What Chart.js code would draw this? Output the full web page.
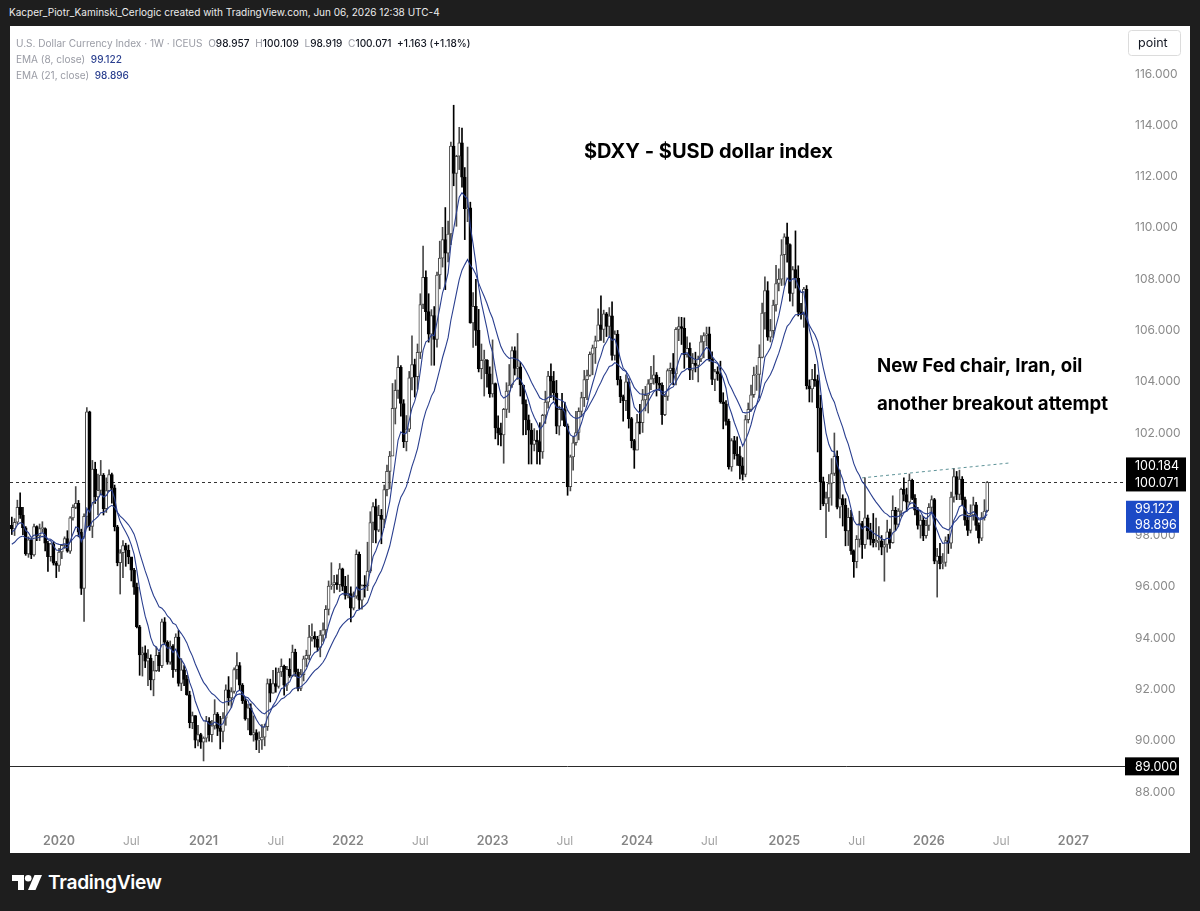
<!DOCTYPE html>
<html>
<head>
<meta charset="utf-8">
<script src="https://cdn.jsdelivr.net/npm/chart.js@4.4.1/dist/chart.umd.min.js"></script>
<style>
html, body { margin: 0; padding: 0; width: 1200px; height: 911px; overflow: hidden; background: #1e1e1e; font-family: Inter, "Noto Sans", sans-serif; }
.fit { position: absolute; white-space: nowrap; display: inline-block; }
#topbar { left: 9px; top: 4px; color: #ececec; font-size: 13px; line-height: 16px; }
#panel { position: absolute; left: 10px; top: 26px; width: 1180px; height: 827px; background: #fff; }
#chart { position: absolute; left: 0; top: 0; }
#legend { position: absolute; left: 6px; top: 9px; font-size: 12.5px; line-height: 16px; color: #9a9ca5; }
#legend div { white-space: nowrap; display: table; }
#legend b { font-weight: 500; color: #131722; }
#legend .ema { color: #2a3f8f; font-weight: 500; }
#logo { position: absolute; left: 12px; top: 872px; height: 20px; color: #fff; }
#logo svg { position: absolute; left: 0; top: 3px; }
#logo span { position: absolute; left: 36px; top: -2px; font-weight: 600; font-size: 21px; white-space: nowrap; letter-spacing: -0.3px; }
</style>
</head>
<body>
<div id="topbar" class="fit">Kacper_Piotr_Kaminski_Cerlogic created with TradingView.com, Jun 06, 2026 12:38 UTC-4</div>
<div id="panel">
  <canvas id="chart"></canvas>
  <div id="legend">
    <div id="leg1">U.S. Dollar Currency Index · 1W · ICEUS&nbsp; O<b>98.957</b>&nbsp; H<b>100.109</b>&nbsp; L<b>98.919</b>&nbsp; C<b>100.071</b>&nbsp; <b>+1.163 (+1.18%)</b></div>
    <div id="leg2">EMA (8, close)&nbsp; <span class="ema">99.122</span></div>
    <div id="leg3">EMA (21, close)&nbsp; <span class="ema">98.896</span></div>
  </div>
</div>
<div id="logo">
  <svg width="30" height="15" viewBox="0 0 30 15"><path d="M0 0h12v15h-6v-9h-6z" fill="#fff"/><circle cx="16.2" cy="3.3" r="3.3" fill="#fff"/><path d="M22.5 0h7.5l-6.5 15h-7.5z" fill="#fff"/></svg>
  <span id="logotext">TradingView</span>
</div>
<script>
// weekly DXY candles, first bar = week of 2019-09-09
const firstOpen = 98.40;
const closes = [
  98.26, 98.52, 99.10, 98.80, 98.30, 97.28, 97.83, 97.24, 98.35, 97.99,
  98.27, 98.27, 97.70, 97.18, 97.68, 96.92, 96.84, 97.36, 97.62, 97.88,
  97.39, 98.69, 99.10, 99.26, 98.13, 95.94, 98.75, 102.82, 98.36, 100.59,
  99.51, 99.76, 100.36, 99.05, 99.75, 100.38, 99.86, 98.34, 96.94, 97.33,
  97.61, 97.43, 97.17, 96.65, 95.99, 94.44, 93.35, 93.43, 93.10, 93.22,
  92.37, 92.73, 93.33, 92.93, 94.64, 93.84, 93.06, 93.69, 92.77, 94.04,
  92.23, 92.76, 92.39, 91.79, 90.70, 90.98, 90.02, 90.24, 89.94, 90.10,
  90.77, 90.24, 90.58, 91.04, 90.48, 90.36, 90.88, 91.98, 91.67, 91.92,
  92.77, 92.93, 92.17, 91.56, 90.85, 91.28, 90.23, 90.32, 90.02, 90.03,
  90.14, 90.55, 92.23, 91.85, 92.23, 92.12, 92.68, 92.90, 92.17, 92.78,
  92.53, 93.46, 92.68, 92.04, 92.58, 93.19, 93.33, 94.04, 94.08, 93.96,
  93.64, 94.12, 94.32, 95.12, 96.03, 96.08, 96.17, 96.08, 96.70, 96.02,
  95.67, 95.74, 95.17, 95.64, 97.27, 95.48, 96.05, 96.04, 96.61, 98.51,
  99.13, 98.21, 98.79, 98.63, 99.79, 100.50, 101.10, 102.96, 103.66, 104.56,
  103.15, 101.66, 102.15, 104.15, 104.67, 104.20, 105.14, 107.01, 108.07, 106.73,
  105.85, 106.58, 105.65, 108.16, 108.82, 109.54, 109.01, 109.76, 113.19, 112.12,
  112.79, 113.31, 111.98, 110.75, 110.78, 106.29, 106.94, 106.00, 104.51, 104.83,
  104.84, 104.31, 103.52, 103.93, 102.20, 101.99, 101.92, 102.92, 103.63, 103.87,
  105.21, 104.52, 104.58, 103.87, 103.12, 102.51, 102.11, 101.55, 101.72, 101.66,
  101.26, 102.69, 103.20, 104.22, 104.02, 103.56, 102.27, 102.92, 102.91, 102.28,
  99.91, 101.07, 101.62, 102.02, 102.84, 103.38, 104.08, 104.24, 105.07, 105.32,
  105.59, 106.22, 106.04, 106.65, 106.16, 106.57, 105.02, 105.86, 104.08, 103.42,
  103.26, 103.99, 102.56, 101.70, 101.33, 102.41, 102.40, 103.29, 103.47, 103.92,
  104.11, 104.27, 103.94, 103.86, 102.71, 103.43, 104.43, 104.53, 104.30, 106.04,
  106.15, 106.08, 105.05, 105.30, 104.45, 104.72, 104.63, 104.89, 105.55, 105.80,
  105.87, 104.88, 104.09, 104.39, 104.31, 103.21, 103.14, 102.45, 100.68, 101.70,
  101.18, 101.11, 100.72, 100.38, 102.52, 102.92, 103.49, 104.26, 104.28, 104.95,
  106.68, 107.55, 105.74, 105.99, 106.99, 107.83, 108.00, 108.95, 109.65, 109.35,
  107.44, 108.37, 108.04, 106.71, 106.61, 107.61, 103.84, 103.72, 104.09, 104.04,
  102.98, 100.10, 99.23, 99.47, 100.03, 100.42, 101.09, 99.11, 99.44, 99.19,
  98.18, 98.71, 97.40, 96.98, 97.85, 98.47, 97.64, 98.69, 98.18, 97.85,
  97.72, 97.77, 97.77, 97.55, 97.65, 98.15, 97.72, 98.98, 98.43, 98.95,
  99.80, 99.60, 99.30, 100.15, 99.45, 98.99, 98.40, 98.60, 98.00, 98.40,
  99.10, 99.40, 97.00, 97.20, 96.90, 96.95, 97.80, 97.70, 99.50, 100.30,
  99.60, 100.20, 99.40, 98.60, 98.20, 98.80, 99.20, 98.40, 97.90, 98.70,
  98.957, 100.071
];
const highs = [
  98.72, 98.66, 99.38, 99.67, 99.10, 98.35, 97.95, 97.88, 98.45, 98.38,
  98.45, 98.54, 98.30, 97.77, 97.70, 97.75, 96.99, 97.50, 97.64, 97.95,
  98.19, 98.74, 99.20, 99.91, 99.37, 98.25, 98.85, 102.99, 102.85, 100.93,
  100.86, 100.40, 100.93, 100.42, 100.25, 100.56, 100.44, 99.97, 98.40, 97.45,
  97.80, 97.70, 97.63, 97.07, 96.72, 96.15, 94.50, 93.65, 93.70, 93.55,
  93.35, 93.10, 93.66, 93.45, 94.74, 94.80, 93.90, 93.89, 93.75, 94.17,
  94.30, 93.20, 92.93, 92.55, 91.93, 91.12, 90.98, 90.60, 90.29, 90.15,
  90.95, 90.90, 90.79, 91.60, 91.10, 90.95, 91.10, 92.18, 92.50, 92.07,
  92.84, 93.44, 93.05, 92.23, 91.68, 91.43, 91.44, 90.97, 90.43, 90.35,
  90.63, 90.65, 92.41, 92.40, 92.74, 92.84, 92.83, 93.19, 92.95, 92.90,
  93.20, 93.73, 93.57, 92.79, 92.78, 93.30, 93.53, 94.50, 94.56, 94.25,
  94.07, 94.30, 94.60, 95.27, 96.23, 96.94, 96.45, 96.47, 96.91, 96.73,
  96.41, 96.46, 96.00, 95.80, 97.44, 97.36, 96.08, 96.44, 97.74, 98.93,
  99.29, 99.42, 99.18, 99.02, 99.97, 100.75, 101.28, 103.93, 104.07, 105.01,
  104.63, 103.30, 102.68, 104.40, 105.79, 104.88, 105.47, 107.43, 109.29, 108.32,
  107.43, 106.81, 106.93, 108.27, 109.48, 110.02, 110.79, 110.26, 113.34, 114.78,
  112.83, 113.92, 113.89, 112.35, 113.15, 111.00, 107.47, 107.99, 106.82, 105.47,
  105.23, 104.86, 104.58, 105.63, 103.95, 102.67, 102.39, 102.96, 103.96, 104.67,
  105.36, 105.36, 105.88, 104.76, 103.87, 103.29, 102.70, 102.37, 102.17, 102.09,
  102.40, 102.73, 103.63, 104.40, 104.70, 104.40, 104.05, 103.05, 103.55, 103.20,
  102.35, 101.14, 101.85, 102.84, 102.98, 103.59, 104.44, 104.45, 105.16, 105.43,
  105.78, 106.84, 107.35, 106.79, 106.70, 106.89, 107.11, 105.98, 106.00, 104.21,
  103.48, 104.27, 104.12, 102.61, 101.75, 102.73, 103.12, 103.70, 103.82, 104.08,
  104.60, 105.02, 104.36, 104.17, 103.96, 103.50, 104.50, 104.73, 105.10, 106.11,
  106.52, 106.51, 106.49, 105.75, 105.52, 105.10, 105.15, 105.00, 105.80, 105.91,
  106.13, 106.13, 105.16, 104.48, 104.58, 104.80, 103.57, 103.26, 102.54, 101.78,
  101.87, 101.85, 101.47, 101.04, 102.69, 103.17, 103.87, 104.57, 104.63, 105.44,
  107.07, 108.09, 107.90, 106.43, 107.18, 108.54, 108.40, 109.54, 109.77, 110.18,
  109.38, 108.49, 109.88, 108.52, 107.06, 107.68, 107.75, 104.07, 104.48, 104.68,
  104.26, 103.47, 100.28, 99.70, 100.38, 101.00, 102.00, 101.30, 100.55, 99.59,
  99.44, 99.07, 98.98, 97.44, 98.00, 98.95, 98.55, 100.25, 98.80, 98.48,
  98.86, 98.68, 98.35, 98.00, 97.85, 98.60, 98.25, 99.55, 99.10, 99.05,
  99.85, 100.25, 99.85, 100.40, 100.20, 99.60, 99.10, 98.80, 98.75, 98.60,
  99.25, 99.55, 99.45, 97.50, 97.70, 97.30, 97.95, 98.05, 99.70, 100.60,
  100.50, 100.55, 100.30, 99.50, 98.80, 99.20, 99.50, 99.30, 98.50, 98.90,
  99.40, 100.109
];
const lows = [
  98.04, 98.00, 98.45, 98.67, 98.03, 97.23, 97.15, 97.10, 97.20, 97.80,
  97.80, 98.15, 97.40, 96.60, 97.00, 96.85, 96.36, 96.60, 97.10, 97.50,
  97.35, 97.30, 98.60, 99.05, 97.95, 95.70, 94.65, 98.30, 98.20, 97.92,
  99.25, 98.80, 99.60, 98.80, 98.90, 99.72, 99.26, 98.18, 96.82, 95.72,
  96.36, 96.80, 96.90, 96.23, 95.70, 94.40, 92.55, 92.52, 92.85, 92.15,
  91.98, 91.75, 92.70, 92.70, 92.85, 93.75, 92.98, 92.98, 92.47, 92.70,
  92.13, 91.95, 92.15, 91.78, 90.50, 90.47, 89.72, 89.80, 89.70, 89.21,
  89.95, 89.98, 89.95, 90.45, 90.20, 89.68, 89.95, 90.60, 91.38, 91.30,
  91.85, 92.40, 91.98, 91.45, 90.80, 90.42, 90.22, 89.98, 89.65, 89.53,
  89.66, 89.80, 90.40, 91.51, 91.85, 91.89, 92.05, 92.50, 91.78, 91.95,
  92.47, 92.50, 92.51, 91.94, 91.95, 92.33, 92.89, 93.15, 93.88, 93.65,
  93.50, 93.27, 93.87, 94.01, 94.90, 95.90, 95.76, 95.90, 95.81, 95.85,
  95.52, 95.57, 94.63, 95.10, 95.55, 95.14, 95.13, 95.60, 95.85, 96.55,
  97.72, 97.71, 98.15, 97.68, 98.31, 99.55, 99.82, 101.15, 102.35, 103.35,
  102.66, 101.43, 101.30, 102.05, 103.68, 103.40, 103.70, 104.90, 106.85, 106.39,
  105.54, 104.64, 104.64, 105.35, 107.62, 108.47, 107.59, 108.67, 109.34, 111.64,
  110.06, 112.27, 111.59, 109.54, 110.24, 106.28, 105.34, 105.41, 104.38, 104.11,
  103.44, 103.79, 103.39, 103.40, 101.77, 101.53, 101.50, 100.82, 102.60, 102.80,
  103.78, 104.26, 104.09, 103.44, 101.92, 101.93, 100.79, 100.79, 101.30, 100.79,
  100.78, 101.01, 102.37, 102.97, 103.38, 103.28, 101.97, 101.92, 102.50, 102.25,
  99.57, 99.74, 100.55, 101.52, 101.73, 102.63, 103.03, 103.30, 104.21, 104.27,
  104.71, 105.58, 105.61, 105.53, 105.76, 105.80, 104.84, 104.84, 103.87, 103.18,
  102.46, 102.87, 102.19, 101.42, 100.62, 101.34, 101.96, 102.02, 102.86, 102.78,
  103.69, 103.90, 103.44, 103.65, 102.33, 102.67, 103.27, 103.95, 103.88, 103.87,
  105.60, 105.45, 104.52, 104.96, 104.08, 104.08, 104.38, 103.99, 104.78, 104.93,
  105.40, 104.80, 103.88, 103.65, 104.05, 103.16, 102.16, 102.30, 100.59, 100.51,
  100.98, 100.73, 100.21, 100.16, 100.29, 102.39, 102.85, 103.39, 103.66, 103.37,
  104.93, 106.05, 105.61, 105.55, 105.72, 106.75, 107.54, 107.75, 107.76, 108.66,
  107.14, 106.95, 107.65, 106.56, 106.44, 106.12, 103.71, 103.21, 103.20, 103.82,
  101.26, 99.01, 99.16, 97.92, 98.94, 99.18, 100.34, 99.04, 98.69, 98.37,
  97.60, 97.61, 97.26, 96.37, 96.74, 97.55, 97.11, 97.50, 97.86, 97.63,
  97.55, 97.56, 97.44, 97.25, 96.22, 97.35, 97.50, 97.70, 98.20, 98.35,
  98.75, 99.35, 98.95, 99.20, 99.40, 98.80, 98.25, 97.90, 97.80, 97.90,
  98.20, 98.90, 96.90, 95.60, 96.70, 96.70, 96.80, 97.30, 97.50, 99.30,
  99.40, 99.40, 99.20, 98.40, 98.00, 98.10, 98.60, 98.20, 97.70, 97.80,
  98.60, 98.919
];

// EMA values just before the first visible bar
const ema8Seed = 98.1;
const ema21Seed = 97.6;

// time axis: bar index of the first bar of each labelled month
const timeTicks = [17, 43, 69, 95, 121, 147, 173, 199, 225, 251, 278, 304, 330, 356, 382];
const timeLabels = ["2020", "Jul", "2021", "Jul", "2022", "Jul", "2023", "Jul", "2024", "Jul", "2025", "Jul", "2026", "Jul", "2027"];
const priceTicks = [88, 90, 92, 94, 96, 98, 100, 102, 104, 106, 108, 110, 112, 114, 116];

const lastClose = 100.071;
const supportLevel = 89;
const trendLine = [{ x: 306, y: 100.25 }, { x: 359, y: 100.83 }];
const priceTags = ["100.184", "100.071"];
const emaTags = ["99.122", "98.896"];

const upColor = "#4a4a4a";
const downColor = "#000000";
const emaColor = "#2a3f8f";

const opens = closes.map((c, i) => i === 0 ? firstOpen : closes[i - 1]);
const idx = closes.map((_, i) => i);
const isUp = idx.map(i => closes[i] >= opens[i]);

const calcEma = (n, seed) => {
    const k = 2 / (n + 1);
    let e = seed;
    return closes.map(c => (e = c * k + e * (1 - k)));
};
const ema8 = calcEma(8, ema8Seed);
const ema21 = calcEma(21, ema21Seed);

// fit html text to the measured width in the reference
const fitText = (el, target) => {
    const base = parseFloat(getComputedStyle(el).fontSize);
    const w = el.getBoundingClientRect().width;
    el.style.fontSize = (base * target / w).toFixed(2) + "px";
};
fitText(document.getElementById("topbar"), 431);
fitText(document.getElementById("leg1"), 455);
fitText(document.getElementById("leg2"), 106);
fitText(document.getElementById("leg3"), 113);
fitText(document.getElementById("logotext"), 114);

const fitFont = (ctx, text, weight, family, target) => {
    ctx.font = weight + " 20px " + family;
    const w = ctx.measureText(text).width;
    return weight + " " + (20 * target / w).toFixed(2) + "px " + family;
};

const isJul = (c) => c.tick && timeLabels[timeTicks.indexOf(c.tick.value)] === "Jul";

const overlay = {
    id: "overlay",
    beforeDatasetsDraw(chart) {
        const { ctx, chartArea: a, scales: { x, y } } = chart;
        ctx.save();
        // support line
        let py = Math.round(y.getPixelForValue(supportLevel)) + 0.5;
        ctx.strokeStyle = "#2a2a2a";
        ctx.lineWidth = 1;
        ctx.beginPath(); ctx.moveTo(a.left, py); ctx.lineTo(a.right, py); ctx.stroke();
        // last price line
        py = Math.round(y.getPixelForValue(lastClose)) + 0.5;
        ctx.setLineDash([3, 3]);
        ctx.strokeStyle = "#333";
        ctx.beginPath(); ctx.moveTo(a.left, py); ctx.lineTo(a.right, py); ctx.stroke();
        // trend line
        ctx.strokeStyle = "#5d9297";
        ctx.setLineDash([3, 3]);
        ctx.beginPath();
        ctx.moveTo(x.getPixelForValue(trendLine[0].x), y.getPixelForValue(trendLine[0].y));
        ctx.lineTo(x.getPixelForValue(trendLine[1].x), y.getPixelForValue(trendLine[1].y));
        ctx.stroke();
        ctx.restore();
    },
    afterDraw(chart) {
        const { ctx, chartArea: a, scales: { y } } = chart;
        ctx.save();
        ctx.fillStyle = "#000";
        ctx.textBaseline = "middle";
        ctx.textAlign = "left";
        ctx.font = fitFont(ctx, "$DXY - $USD dollar index", "bold", "Inter", 249);
        ctx.fillText("$DXY - $USD dollar index", 574, 126);
        ctx.font = fitFont(ctx, "another breakout attempt", "bold", "Inter", 231);
        ctx.fillText("New Fed chair, Iran, oil", 867, 340);
        ctx.fillText("another breakout attempt", 867, 378);

        const lx = a.right + 1;
        const tagFont = "12.5px Inter";
        // last price tags
        let cy = y.getPixelForValue(lastClose);
        ctx.fillStyle = "#000";
        ctx.fillRect(lx, cy - 25, 60, 34);
        ctx.fillStyle = "#fff";
        ctx.font = tagFont;
        ctx.fillText(priceTags[0], lx + 9, cy - 16);
        ctx.fillText(priceTags[1], lx + 9, cy + 0.5);
        // ema tags
        cy = y.getPixelForValue(ema8[ema8.length - 1]);
        ctx.fillStyle = "#1c4ac6";
        ctx.fillRect(lx, cy - 9, 53, 32);
        ctx.fillStyle = "#fff";
        ctx.fillText(emaTags[0], lx + 9, cy - 1);
        ctx.fillText(emaTags[1], lx + 9, cy + 15);
        // support tag
        cy = y.getPixelForValue(supportLevel);
        ctx.fillStyle = "#000";
        ctx.fillRect(lx - 1, cy - 9, 54, 18);
        ctx.fillStyle = "#fff";
        ctx.fillText(supportLevel.toFixed(3), lx + 9, cy + 0.5);
        // scale mode button
        ctx.strokeStyle = "#dcdcdc";
        ctx.lineWidth = 1;
        ctx.fillStyle = "#fff";
        ctx.beginPath();
        ctx.roundRect(1118.5, 4.5, 52, 25, 3);
        ctx.fill(); ctx.stroke();
        ctx.fillStyle = "#131722";
        ctx.fillText("point", 1128, 17);
        ctx.restore();
    }
};

new Chart(document.getElementById("chart"), {
    type: "bar",
    data: {
        datasets: [
            {
                type: "line", label: "EMA 8",
                data: idx.map(i => ({ x: i, y: ema8[i] })),
                borderColor: emaColor, borderWidth: 1.1, pointRadius: 0, tension: 0, order: 0
            },
            {
                type: "line", label: "EMA 21",
                data: idx.map(i => ({ x: i, y: ema21[i] })),
                borderColor: emaColor, borderWidth: 1.1, pointRadius: 0, tension: 0, order: 0
            },
            {
                label: "body",
                data: idx.map(i => ({ x: i, y: [opens[i], closes[i]] })),
                backgroundColor: idx.map(i => isUp[i] ? "#ffffff" : downColor),
                borderColor: idx.map(i => isUp[i] ? upColor : downColor),
                borderWidth: 1, borderSkipped: false, barThickness: 3,
                minBarLength: 1, grouped: false, order: 1
            },
            {
                label: "wick",
                data: idx.map(i => ({ x: i, y: [lows[i], highs[i]] })),
                backgroundColor: idx.map(i => isUp[i] ? upColor : downColor),
                borderWidth: 0, barThickness: 1, grouped: false, order: 2
            }
        ]
    },
    options: {
        responsive: true,
        maintainAspectRatio: false,
        animation: false,
        layout: { padding: 0 },
        plugins: {
            legend: { display: false },
            tooltip: { enabled: false }
        },
        scales: {
            x: {
                type: "linear",
                min: -0.65,
                max: 400.58,
                offset: false,
                grid: { display: false, drawTicks: false },
                border: { display: false },
                afterBuildTicks: (s) => { s.ticks = timeTicks.map(v => ({ value: v })); },
                afterFit: (s) => { s.height = 31; s.paddingLeft = 0; s.paddingRight = 0; },
                ticks: {
                    autoSkip: false,
                    maxRotation: 0,
                    padding: 12,
                    callback: (v) => timeLabels[timeTicks.indexOf(v)],
                    color: (c) => isJul(c) ? "#a3a3a3" : "#858585",
                    font: (c) => isJul(c)
                        ? { family: "Inter", size: 12, weight: "400" }
                        : { family: "Inter", size: 12.5, weight: "600" }
                }
            },
            y: {
                type: "linear",
                position: "right",
                min: 86.83,
                max: 117.87,
                beginAtZero: false,
                grid: { display: false, drawTicks: false },
                border: { display: false },
                afterBuildTicks: (s) => { s.ticks = priceTicks.map(v => ({ value: v })); },
                afterFit: (s) => { s.width = 65; s.paddingTop = 0; s.paddingBottom = 0; },
                ticks: {
                    padding: 10,
                    color: "#8a8a8a",
                    font: { family: "Inter", size: 12 },
                    callback: (v) => v.toFixed(3)
                }
            }
        }
    },
    plugins: [overlay]
});
</script>
</body>
</html>
